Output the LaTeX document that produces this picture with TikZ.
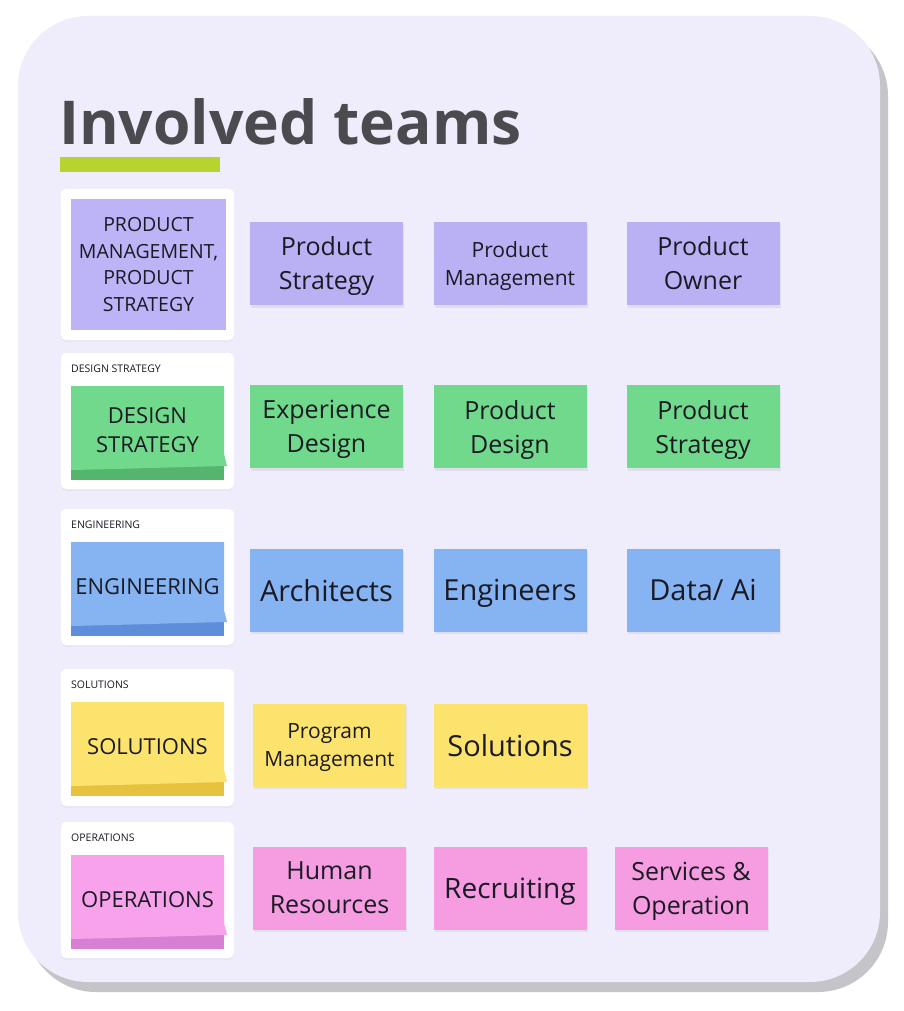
\documentclass[tikz,border=0pt]{standalone}
\usepackage{fontspec}
\setmainfont{Open Sans}
\usetikzlibrary{shadows}
\definecolor{cardbg}{HTML}{EFEDFB}
\definecolor{cardsh}{HTML}{C5C4C9}
\definecolor{titlec}{HTML}{4A4A4F}
\definecolor{barc}{HTML}{B5D42F}
\definecolor{purp}{HTML}{BAB1F5}
\definecolor{purpL}{HTML}{BDB3F7}
\definecolor{grn}{HTML}{70D98B}
\definecolor{grnD}{HTML}{55B46D}
\definecolor{blu}{HTML}{86B3F1}
\definecolor{bluD}{HTML}{5E8DD9}
\definecolor{yel}{HTML}{FCE36D}
\definecolor{yelD}{HTML}{E7C23F}
\definecolor{pnk}{HTML}{F69CE0}
\definecolor{pnkL}{HTML}{F9A2EC}
\definecolor{pnkD}{HTML}{D77FD3}
\definecolor{txt}{HTML}{1A1A24}
\newcommand\setfs[2]{\fontsize{#1}{#2}\selectfont}
\newcommand\stacknote[6]{%
  \fill[#3] (71,#1+70) rectangle (224,#1+94);
  \fill[#2] (71,#1) -- (224,#1) -- (224,#1+68) .. controls (225.5,#1+74) .. (227,#1+80)
     .. controls (180,#1+81) and (120,#1+83) .. (71,#1+84) -- cycle;
  \node[lefttext] (#4) at (147.5,#1+44.5) {#5};
  \node[smalllabel] (#6) at (71,#1-17) {#4};
}
\begin{document}
\begin{tikzpicture}[x=1pt,y=-1pt,
  sticky/.style={minimum width=153pt, minimum height=83pt, inner sep=0pt, align=center, text=txt,
     text depth=0pt,
     drop shadow={opacity=0.13, shadow xshift=1pt, shadow yshift=-2.5pt}},
  frame/.style={fill=white, rounded corners=5pt,
     drop shadow={opacity=0.06, shadow xshift=0pt, shadow yshift=-2pt}},
  lefttext/.style={align=center, text=txt, inner sep=0pt, font=\setfs{22}{29}},
  smalllabel/.style={anchor=west, inner sep=0pt, text=txt, font=\setfs{10.5}{12}},
  fa/.style={font=\setfs{25}{34}},
  fb/.style={font=\setfs{21}{28.5}},
  fc/.style={font=\setfs{29}{38}}]
\useasboundingbox[fill=white] (0,0) rectangle (904,1011);
% card
\fill[cardsh, rounded corners=70pt] (26,26) rectangle (888,992);
\fill[cardbg, rounded corners=70pt] (18,16) rectangle (880,982);
% title
\node[anchor=base west, inner sep=0pt, text=titlec, font=\bfseries\setfs{60.5}{72}] (title) at (59,145) {Involved teams};
\fill[barc] (60,157) rectangle (220,172);
% left frames
\path[frame] (61,189) rectangle (234,340);
\path[frame] (61,353) rectangle (234,489);
\path[frame] (61,509) rectangle (234,645);
\path[frame] (61,669) rectangle (234,806);
\path[frame] (61,822) rectangle (234,958);
% row 1 left
\node[fill=purpL, minimum width=155pt, minimum height=131pt, inner sep=0pt, align=center, text=txt,
   font=\setfs{19.5}{26.5}] (pm) at (148.5,264.5) {PRODUCT\\MANAGEMENT,\\PRODUCT\\STRATEGY};
% stacked left notes
\stacknote{386}{grn}{grnD}{DESIGN STRATEGY}{DESIGN\\STRATEGY}{lds}
\stacknote{542}{blu}{bluD}{ENGINEERING}{ENGINEERING}{len}
\stacknote{702}{yel}{yelD}{SOLUTIONS}{SOLUTIONS}{lso}
\stacknote{855}{pnkL}{pnkD}{OPERATIONS}{OPERATIONS}{lop}
% row 1
\node[sticky, fill=purp, fa] (ps) at (326.5,263.5) {Product\\Strategy};
\node[sticky, fill=purp, fb] (pmg) at (510,263.5) {Product\\Management};
\node[sticky, fill=purp, fa] (po) at (703,263.5) {Product\\Owner};
% row 2
\node[sticky, fill=grn, fa] (ed) at (326.5,426.5) {Experience\\Design};
\node[sticky, fill=grn, fa] (pd) at (510,426.5) {Product\\Design};
\node[sticky, fill=grn, fa] (pst) at (703,426.5) {Product\\Strategy};
% row 3
\node[sticky, fill=blu, fc] (ar) at (326.5,590) {Architects};
\node[sticky, fill=blu, fc] (en) at (510,590) {Engineers};
\node[sticky, fill=blu, fc] (da) at (703,590) {Data/ Ai};
% row 4
\node[sticky, fill=yel, fb] (pg) at (329.5,745) {Program\\Management};
\node[sticky, fill=yel, fc] (so) at (510,745) {Solutions};
% row 5
\node[sticky, fill=pnk, fa] (hr) at (329.5,888) {Human\\Resources};
\node[sticky, fill=pnk, font=\setfs{28}{37}] (re) at (510,888) {Recruiting};
\node[sticky, fill=pnk, fa] (sv) at (691,888) {Services \&\\Operation};
\end{tikzpicture}
\end{document}
